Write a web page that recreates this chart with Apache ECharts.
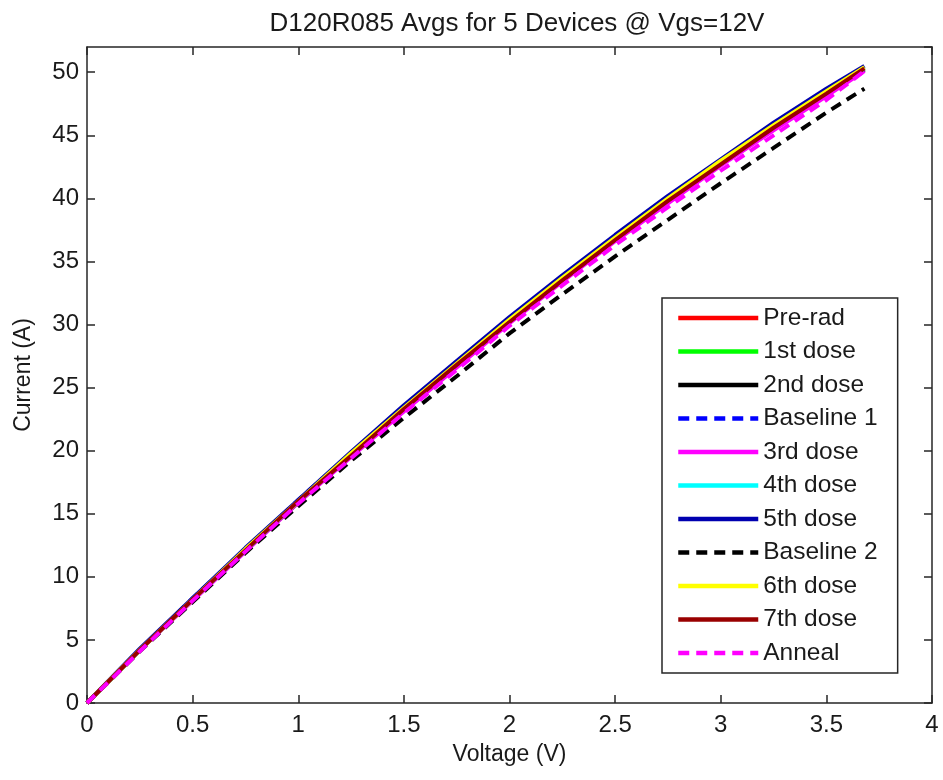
<!DOCTYPE html>
<html>
<head>
<meta charset="utf-8">
<title>D120R085 Avgs</title>
<script src="https://cdn.jsdelivr.net/npm/echarts@6/dist/echarts.min.js"></script>
<style>
  html, body { margin: 0; padding: 0; background: #fff; }
  #chart { width: 943px; height: 780px; }
</style>
</head>
<body>
<div id="chart"></div>
<script>
const voltage = [0, 0.25, 0.5, 0.75, 1, 1.25, 1.5, 1.75, 2, 2.25, 2.5, 2.75, 3, 3.25, 3.5, 3.68];

const preRad    = [0, 4.2, 8.2, 12.1, 16.0, 19.6, 23.3, 26.8, 30.3, 33.6, 36.8, 39.9, 42.8, 45.7, 48.4, 50.3];
const dose1     = [0, 4.2, 8.2, 12.2, 16.0, 19.7, 23.4, 26.9, 30.4, 33.7, 36.9, 40.0, 42.9, 45.8, 48.5, 50.4];
const dose2     = [0, 4.2, 8.2, 12.1, 15.9, 19.6, 23.3, 26.8, 30.3, 33.6, 36.8, 39.8, 42.8, 45.6, 48.3, 50.2];
const baseline1 = [0, 4.2, 8.3, 12.2, 16.1, 19.8, 23.5, 27.0, 30.5, 33.8, 37.0, 40.1, 43.0, 45.9, 48.6, 50.4];
const dose3     = [0, 4.2, 8.1, 12.0, 15.9, 19.5, 23.1, 26.6, 30.1, 33.4, 36.6, 39.6, 42.6, 45.4, 48.1, 50.1];
const dose4     = [0, 4.2, 8.2, 12.1, 16.0, 19.7, 23.4, 26.9, 30.4, 33.7, 36.9, 39.9, 42.9, 45.7, 48.5, 50.3];
const dose5     = [0, 4.3, 8.3, 12.3, 16.1, 19.9, 23.6, 27.1, 30.6, 33.9, 37.1, 40.2, 43.1, 46.0, 48.7, 50.5];
const baseline2 = [0, 4.1, 8.0, 11.9, 15.6, 19.2, 22.6, 25.9, 29.3, 32.4, 35.4, 38.3, 41.2, 44.0, 46.8, 48.7];
const dose6     = [0, 4.2, 8.2, 12.2, 16.0, 19.8, 23.4, 26.9, 30.4, 33.7, 36.9, 40.0, 43.0, 45.8, 48.5, 50.4];
const dose7     = [0, 4.2, 8.2, 12.1, 16.0, 19.6, 23.3, 26.8, 30.2, 33.5, 36.7, 39.8, 42.7, 45.6, 48.3, 50.3];
const anneal    = [0, 4.1, 8.1, 12.0, 15.8, 19.4, 23.0, 26.4, 29.9, 33.1, 36.3, 39.3, 42.2, 45.0, 47.8, 50.1];

const names = ['Pre-rad', '1st dose', '2nd dose', 'Baseline 1', '3rd dose', '4th dose',
  '5th dose', 'Baseline 2', '6th dose', '7th dose', 'Anneal'];
const currents = [preRad, dose1, dose2, baseline1, dose3, dose4, dose5, baseline2, dose6, dose7, anneal];
const colors = ['#ff0000', '#00ff00', '#000000', '#0000ff', '#ff00ff', '#00ffff',
  '#0000b0', '#000000', '#ffff00', '#990000', '#ff00ff'];
const dashed = [false, false, false, true, false, false, false, true, false, false, true];

const font = 'Liberation Sans, Arial, sans-serif';
const axisColor = '#262626';

function makeSeries(i) {
  return {
    name: names[i],
    type: 'line',
    symbol: 'none',
    xAxisIndex: 0,
    yAxisIndex: 0,
    data: voltage.map((v, k) => [v, currents[i][k]]),
    lineStyle: {
      color: colors[i],
      width: 4,
      type: dashed[i] ? [11, 7] : 'solid'
    },
    itemStyle: {color: colors[i]}
  };
}

function frameAxis(extra) {
  return Object.assign({
    type: 'value',
    axisLine: {show: true, onZero: false, lineStyle: {color: axisColor, width: 1.5}},
    axisTick: {show: true, inside: true, length: 8, lineStyle: {color: axisColor, width: 1.5}},
    splitLine: {show: false}
  }, extra);
}

const chart = echarts.init(document.getElementById('chart'));
chart.setOption({
  backgroundColor: '#ffffff',
  animation: false,
  title: {
    text: 'D120R085 Avgs for 5 Devices @ Vgs=12V',
    left: 512,
    textAlign: 'center',
    top: 6,
    textStyle: {fontFamily: font, fontSize: 26, fontWeight: 'normal', color: '#1a1a1a'}
  },
  grid: {left: 87, right: 11, top: 47, bottom: 77, containLabel: false},
  legend: {
    orient: 'vertical',
    left: 662,
    top: 298,
    data: names,
    backgroundColor: '#ffffff',
    borderColor: axisColor,
    borderWidth: 1.5,
    borderRadius: 0,
    padding: [7, 20, 7, 14],
    itemWidth: 80,
    itemHeight: 4,
    itemGap: 7.5,
    itemStyle: {opacity: 0},
    lineStyle: {width: 4.5, inactiveWidth: 4.5},
    textStyle: {fontFamily: font, fontSize: 24.5, color: '#1a1a1a', lineHeight: 26},
    selectedMode: false
  },
  xAxis: [
    frameAxis({
      position: 'bottom',
      min: 0, max: 4, interval: 0.5,
      name: 'Voltage (V)',
      nameLocation: 'middle',
      nameGap: 40,
      nameTextStyle: {fontFamily: font, fontSize: 23, color: '#1a1a1a'},
      axisLabel: {fontFamily: font, fontSize: 24, color: '#1a1a1a', margin: 10}
    }),
    frameAxis({
      position: 'top',
      min: 0, max: 4, interval: 0.5,
      axisLabel: {show: false}
    })
  ],
  yAxis: [
    frameAxis({
      position: 'left',
      min: 0, max: 52, interval: 5,
      name: 'Current (A)',
      nameLocation: 'middle',
      nameGap: 52,
      nameRotate: 90,
      nameTextStyle: {fontFamily: font, fontSize: 23, color: '#1a1a1a'},
      axisLabel: {fontFamily: font, fontSize: 24, color: '#1a1a1a', margin: 8, showMaxLabel: false}
    }),
    frameAxis({
      position: 'right',
      min: 0, max: 52, interval: 5,
      axisLabel: {show: false}
    })
  ],
  series: names.map((n, i) => makeSeries(i))
});
</script>
</body>
</html>
